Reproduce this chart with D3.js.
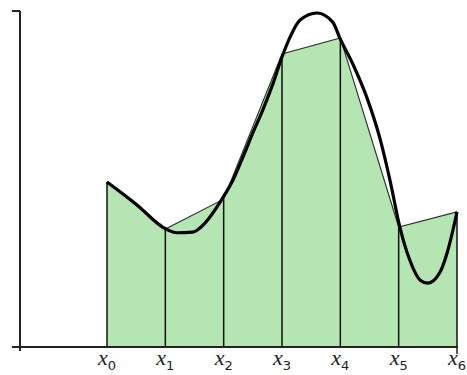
<!DOCTYPE html>
<html>
<head>
<meta charset="utf-8">
<title>Trapezoid rule</title>
<script src="https://d3js.org/d3.v7.min.js"></script>
<style>
  body { margin: 0; background: #fff; }
  .lbl { font-family: "Liberation Serif", serif; font-style: italic; font-size: 22px; fill: #222; }
  .sub { font-family: "DejaVu Sans", sans-serif; font-style: normal; font-size: 13px; }
</style>
</head>
<body>
<div id="chart"></div>
<script>
// sample nodes x0..x6 and the trapezoid heights at them
var nodes = [0, 1, 2, 3, 4, 5, 6];
var nodeLabels = ["0", "1", "2", "3", "4", "5", "6"];
var nodeVals = [4.91, 3.51, 4.40, 8.72, 9.20, 3.57, 4.02];

// the smooth function f(x)
var curveX = [0, 0.5, 1.01, 1.20, 1.47, 1.68, 1.97, 2.16, 2.33, 2.50, 2.67, 2.85, 3.0, 3.14, 3.31, 3.60, 3.87, 3.99, 4.22, 4.46, 4.68, 4.85, 5.02, 5.19, 5.37, 5.50, 5.71, 5.83, 5.97, 6.0];
var curveY = [4.91, 4.25, 3.51, 3.40, 3.42, 3.69, 4.40, 4.97, 5.65, 6.37, 7.05, 7.86, 8.63, 9.23, 9.73, 9.94, 9.67, 9.20, 8.40, 7.40, 6.20, 4.97, 3.57, 2.59, 1.99, 1.90, 2.23, 2.80, 3.78, 4.02];

var W = 467, H = 375;
var svg = d3.select("#chart").append("svg")
  .attr("width", W)
  .attr("height", H);

var x = d3.scaleLinear().domain([0, 6]).range([107, 457]);
var y = d3.scaleLinear().domain([0, 10]).range([347, 11]);

// trapezoid area
var pts = nodes.map(function(d, i) { return [d, nodeVals[i]]; });
var area = d3.area()
  .x(function(d) { return x(d[0]); })
  .y0(y(0))
  .y1(function(d) { return y(d[1]); });
svg.append("path")
  .datum(pts)
  .attr("d", area)
  .attr("fill", "#b4e5b3");

// top edge of the trapezoids
svg.append("path")
  .datum(pts)
  .attr("d", d3.line().x(function(d) { return x(d[0]); }).y(function(d) { return y(d[1]); }))
  .attr("fill", "none")
  .attr("stroke", "#2a3a2a")
  .attr("stroke-width", 1.2);

// vertical lines at each node
svg.selectAll("line.v")
  .data(pts)
  .enter().append("line")
  .attr("class", "v")
  .attr("x1", function(d) { return x(d[0]); })
  .attr("x2", function(d) { return x(d[0]); })
  .attr("y1", y(0))
  .attr("y2", function(d) { return y(d[1]); })
  .attr("stroke", "#111")
  .attr("stroke-width", 1.5);

// the function curve
var cpts = curveX.map(function(d, i) { return [d, curveY[i]]; });
svg.append("path")
  .datum(cpts)
  .attr("d", d3.line()
    .x(function(d) { return x(d[0]); })
    .y(function(d) { return y(d[1]); })
    .curve(d3.curveMonotoneX))
  .attr("fill", "none")
  .attr("stroke", "#000")
  .attr("stroke-width", 3.2)
  .attr("stroke-linejoin", "round");

// axes
svg.append("line")
  .attr("x1", 20).attr("x2", 20)
  .attr("y1", y(10)).attr("y2", y(0) + 4)
  .attr("stroke", "#222").attr("stroke-width", 2);
svg.append("line")
  .attr("x1", 12).attr("x2", 20)
  .attr("y1", y(10)).attr("y2", y(10))
  .attr("stroke", "#222").attr("stroke-width", 2);
svg.append("line")
  .attr("x1", 12).attr("x2", x(6) + 1)
  .attr("y1", y(0)).attr("y2", y(0))
  .attr("stroke", "#222").attr("stroke-width", 2);
svg.append("line")
  .attr("x1", x(6)).attr("x2", x(6))
  .attr("y1", y(0)).attr("y2", y(0) + 7)
  .attr("stroke", "#222").attr("stroke-width", 1.5);

// node labels
var t = svg.selectAll("text.lbl")
  .data(nodes)
  .enter().append("text")
  .attr("class", "lbl")
  .attr("x", function(d) { return x(d) - 9; })
  .attr("y", 365);
t.append("tspan").text("x");
t.append("tspan")
  .attr("class", "sub")
  .attr("dy", 5)
  .text(function(d, i) { return nodeLabels[i]; });
</script>
</body>
</html>
